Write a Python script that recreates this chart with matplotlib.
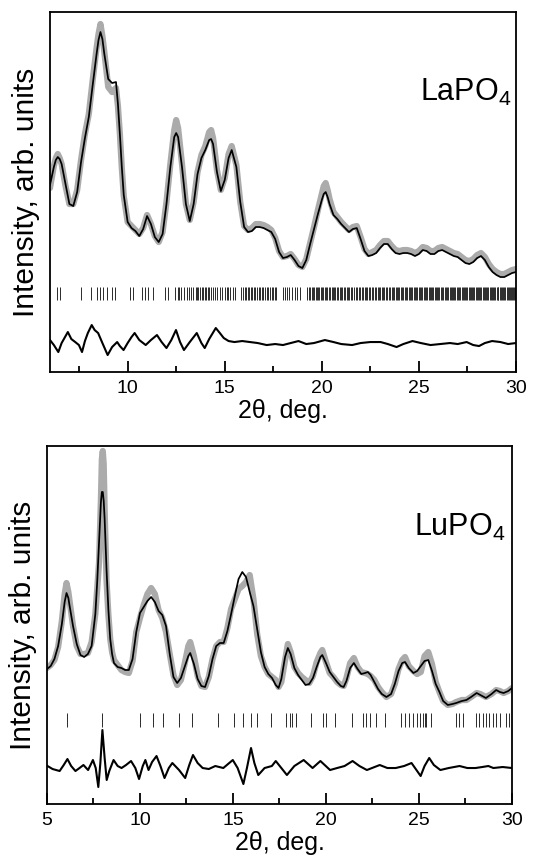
import matplotlib
matplotlib.use('Agg')
import matplotlib.pyplot as plt
from matplotlib.ticker import MultipleLocator

plt.rcParams['font.family'] = ['Liberation Sans', 'DejaVu Sans']
plt.rcParams['mathtext.fontset'] = 'custom'
plt.rcParams['mathtext.rm'] = 'Liberation Sans'

# ---------------- LaPO4 (top) ----------------
la_x = [6.0, 6.2, 6.3, 6.4, 6.5, 6.6, 6.8, 7.0, 7.2, 7.4, 7.6, 7.8, 8.0, 8.2, 8.4, 8.5, 8.6, 8.7, 8.8, 9.0,
        9.2, 9.4, 9.5, 9.6, 9.7, 9.8, 10.0, 10.2, 10.4, 10.6, 10.8, 11.0, 11.2, 11.4, 11.6, 11.8,
        12.0, 12.2, 12.4, 12.5, 12.6, 12.8, 13.0, 13.2, 13.4, 13.6, 13.8, 14.0, 14.2, 14.3,
        14.4, 14.6, 14.8, 15.0, 15.2, 15.36, 15.6, 15.8, 16.0, 16.2, 16.4, 16.6, 16.8, 17.0,
        17.2, 17.4, 17.6, 17.8, 18.0, 18.2, 18.4, 18.6, 18.8, 19.0, 19.2, 19.4, 19.6, 19.8,
        20.0, 20.1, 20.2, 20.3, 20.4, 20.6, 20.8, 21.0, 21.2, 21.4, 21.6, 21.8, 22.0, 22.2, 22.4, 22.6,
        22.8, 23.0, 23.2, 23.4, 23.6, 23.8, 24.0, 24.2, 24.4, 24.6, 24.8, 25.0, 25.2, 25.4,
        25.6, 25.8, 26.0, 26.2, 26.4, 26.6, 26.8, 27.0, 27.2, 27.4, 27.6, 27.8, 28.0, 28.2,
        28.4, 28.6, 28.8, 29.0, 29.2, 29.4, 29.6, 29.8, 30.0]
la_calc = [187, 205, 212, 215, 213, 208, 188, 168, 166, 180, 210, 234, 255, 287, 318, 332, 340, 333, 318, 293,
           289, 290, 268, 238, 205, 177, 150, 144, 141, 136, 143, 156, 148, 135, 130, 138,
           168, 205, 235, 239, 235, 205, 168, 151, 168, 198, 214, 222, 232, 233,
           228, 200, 181, 192, 214, 222, 205, 170, 145, 140, 141, 145, 145, 144,
           142, 140, 133, 120, 114, 115, 117, 112, 106, 104, 112, 128, 143, 158,
           172, 178, 180, 175, 168, 157, 153, 148, 144, 140, 143, 144, 133, 121, 116, 117,
           119, 124, 128, 128, 123, 119, 118, 119, 119, 118, 116, 118, 122, 121,
           118, 118, 121, 122, 120, 118, 116, 115, 112, 109, 108, 110, 114, 116,
           112, 105, 100, 97, 95, 95, 97, 99, 100]
la_obs = [184, 206, 214, 218, 214, 208, 186, 168, 168, 182, 212, 238, 258, 292, 324, 338, 348, 336, 320, 285,
          280, 284, 266, 238, 204, 176, 150, 146, 142, 138, 144, 157, 148, 136, 130, 140,
          170, 208, 242, 252, 244, 208, 168, 152, 170, 200, 217, 226, 240, 242,
          234, 202, 182, 194, 218, 226, 207, 170, 146, 142, 144, 148, 148, 147,
          145, 142, 134, 121, 115, 116, 118, 113, 107, 105, 113, 129, 145, 162,
          178, 186, 189, 182, 173, 160, 155, 150, 146, 142, 145, 146, 135, 123, 118, 120,
          122, 127, 131, 131, 126, 122, 121, 122, 122, 121, 119, 121, 125, 124,
          121, 121, 124, 125, 123, 121, 119, 118, 115, 112, 111, 113, 117, 119,
          115, 108, 103, 100, 98, 98, 100, 102, 103]

la_diff_x = [6.0, 6.2, 6.43, 6.6, 6.92, 7.1, 7.3, 7.49, 7.65, 7.8, 7.95, 8.15, 8.3, 8.48, 8.7,
             8.97, 9.2, 9.46, 9.6, 9.79, 10.0, 10.2, 10.36, 10.6, 10.93, 11.2, 11.51, 11.75,
             12.0, 12.25, 12.49, 12.7, 12.9, 13.2, 13.56, 13.8, 13.97, 14.2, 14.54, 14.75,
             14.95, 15.2, 15.5, 15.9, 16.3, 16.7, 17.16, 17.6, 18.0, 18.4, 18.8, 19.2, 19.6,
             20.16, 20.6, 21.0, 21.56, 22.0, 22.5, 23.03, 23.4, 23.85, 24.2, 24.67, 25.1,
             25.6, 26.1, 26.6, 27.0, 27.46, 27.8, 28.1, 28.4, 28.77, 29.2, 29.6, 30.0]
la_diff = [5, 0, -7, 2, 13, 6, 3, 0, -7, 4, 12, 20, 15, 12, 2,
           -10, -2, 3, -1, -5, 2, 8, 12, 5, 0, 5, 10, 3,
           -3, 5, 15, 3, -5, 3, 12, 2, -3, 6, 17, 12,
           7, 4, 3, 4, 3, 2, 0, 1, 0, 2, 4, 1, 2,
           5, 3, 1, 0, 2, 3, 3, 1, -2, 1, 4, 2,
           0, 1, 2, 1, 3, 0, -1, 2, 4, 3, 1, 2]

la_bragg = [6.38, 6.52, 7.62, 8.12, 8.40, 8.58, 8.75, 8.95, 9.18, 9.35, 10.12, 10.29,
            10.72, 10.90, 11.07, 11.32, 11.90, 12.10, 12.45, 12.58, 12.66, 12.77, 12.90,
            13.05, 13.15, 13.26, 13.39, 13.50, 13.56, 13.64, 13.72, 13.82, 13.89, 13.97,
            14.05, 14.13, 14.21, 14.30, 14.38, 14.50, 14.62, 14.75, 14.87, 15.03, 15.10,
            15.16, 15.28, 15.44, 15.52, 15.85, 15.95, 16.02, 16.10, 16.18, 16.26, 16.34,
            16.42, 16.51, 16.58, 16.64, 16.75, 16.84, 16.90, 16.97, 17.08, 17.16, 17.25,
            17.33, 17.41, 17.50, 17.58, 17.66, 18.02, 18.10, 18.22, 18.30, 18.45, 18.60,
            18.72, 18.90, 19.25, 19.32, 19.40, 19.47, 19.55, 19.60, 19.68, 19.75, 19.80,
            19.88, 19.95, 20.02, 20.08, 20.15, 20.22, 20.28, 20.35, 20.42, 20.50, 20.56,
            20.62, 20.70, 20.78, 20.85, 20.92, 20.98, 21.05, 21.12, 21.20, 21.28, 21.35,
            21.42, 21.50, 21.58, 21.65, 21.75, 21.82, 21.90, 21.97, 22.05, 22.12, 22.20,
            22.28, 22.35, 22.42, 22.50, 22.58, 22.65, 22.72, 22.80, 22.88, 22.95, 23.02,
            23.08, 23.15, 23.22, 23.30, 23.38, 23.45, 23.52, 23.60, 23.66, 23.72, 23.80,
            23.86, 23.92, 24.00, 24.06, 24.12, 24.20, 24.26, 24.33, 24.40, 24.47, 24.53,
            24.60, 24.67, 24.73, 24.80, 24.86, 24.92, 25.00, 25.06, 25.12, 25.18, 25.25,
            25.32, 25.38, 25.44, 25.50, 25.56, 25.62, 25.68, 25.75, 25.82, 25.88, 25.94,
            26.00, 26.06, 26.12, 26.18, 26.25, 26.32, 26.38, 26.45, 26.52, 26.58, 26.64,
            26.70, 26.76, 26.82, 26.88, 26.95, 27.02, 27.08, 27.14, 27.20, 27.26, 27.32,
            27.38, 27.44, 27.50, 27.56, 27.62, 27.68, 27.74, 27.80, 27.86, 27.92, 27.98,
            28.04, 28.10, 28.16, 28.22, 28.28, 28.34, 28.40, 28.46, 28.52, 28.58, 28.64,
            28.70, 28.76, 28.82, 28.88, 28.94, 29.00, 29.05, 29.10, 29.16, 29.22, 29.28,
            29.34, 29.40, 29.46, 29.52, 29.58, 29.64, 29.70, 29.75, 29.80, 29.86, 29.92, 29.97]

# ---------------- LuPO4 (bottom) ----------------
lu_x = [5.0, 5.2, 5.4, 5.6, 5.8, 5.95, 6.05, 6.15, 6.2, 6.4, 6.6, 6.8, 7.0, 7.2, 7.4, 7.6, 7.7,
        7.8, 7.9, 7.95, 8.0, 8.05, 8.1, 8.2, 8.3, 8.4, 8.5, 8.6, 8.8, 9.0, 9.2, 9.4, 9.6,
        9.8, 10.0, 10.2, 10.4, 10.6, 10.8, 11.0, 11.2, 11.4, 11.6, 11.8, 12.0, 12.2, 12.4,
        12.6, 12.7, 12.9, 13.1, 13.3, 13.5, 13.7, 13.9, 14.1, 14.3, 14.5, 14.7, 14.9, 15.1,
        15.3, 15.5, 15.7, 15.9, 16.1, 16.3, 16.5, 16.7, 16.9, 17.1, 17.3, 17.45, 17.6, 17.8,
        17.95, 18.1, 18.3, 18.5, 18.7, 18.9, 19.1, 19.3, 19.5, 19.7, 19.8, 20.0, 20.2, 20.4,
        20.6, 20.8, 20.95, 21.1, 21.3, 21.5, 21.7, 21.9, 22.1, 22.25, 22.4, 22.6, 22.8, 23.0,
        23.25, 23.5, 23.7, 23.9, 24.1, 24.25, 24.45, 24.7, 24.9, 25.1, 25.3, 25.5, 25.7, 25.9,
        26.1, 26.3, 26.55, 26.8, 27.0, 27.3, 27.55, 27.8, 28.1, 28.3, 28.6, 28.9, 29.15,
        29.35, 29.55, 29.8, 30.0]
lu_calc = [135, 138, 145, 158, 180, 202, 211, 206, 200, 178, 160, 149, 147, 150, 158, 190, 222,
           262, 302, 312, 312, 303, 285, 235, 195, 165, 150, 141, 137, 136, 134, 134, 145,
           172, 191, 197, 203, 207, 202, 193, 189, 178, 150, 127, 121, 126, 137,
           148, 151, 140, 125, 118, 117, 128, 145, 158, 161, 161, 173, 190, 208,
           225, 232, 227, 212, 198, 175, 152, 137, 130, 126, 119, 116, 125, 147,
           156, 150, 136, 129, 124, 119, 120, 126, 137, 147, 149, 141, 132, 127,
           122, 118, 117, 123, 136, 141, 135, 130, 131, 132, 129, 122, 115, 110,
           107, 110, 120, 133, 141, 142, 136, 131, 133, 138, 143, 144, 133, 120,
           112, 103, 99, 100, 101, 103, 104, 107, 111, 109, 106, 110, 114,
           112, 111, 113, 116]
lu_obs = [136, 139, 144, 157, 183, 210, 221, 212, 205, 178, 158, 150, 150, 151, 162, 190, 215,
          242, 305, 345, 353, 340, 295, 224, 190, 165, 152, 144, 139, 134, 132, 131, 143,
          172, 186, 199, 210, 216, 210, 194, 186, 172, 150, 129, 119, 124, 140,
          158, 162, 148, 128, 118, 117, 127, 145, 158, 162, 162, 176, 195, 205,
          215, 218, 222, 229, 205, 170, 148, 137, 130, 127, 124, 117, 122, 144,
          160, 152, 137, 131, 127, 124, 121, 128, 142, 151, 154, 142, 131, 127,
          122, 119, 118, 126, 141, 146, 137, 132, 131, 130, 128, 124, 117, 112,
          107, 110, 120, 135, 144, 147, 138, 133, 130, 132, 148, 152, 140, 122,
          112, 103, 99, 100, 102, 104, 104, 107, 111, 110, 107, 110, 114,
          113, 111, 113, 116]

lu_diff_x = [5.03, 5.3, 5.68, 5.9, 6.1, 6.3, 6.53, 6.75, 6.96, 7.21, 7.47, 7.62, 7.76,
             7.87, 7.98, 8.1, 8.21, 8.35, 8.58, 8.8, 9.01, 9.25, 9.52, 9.75, 9.95, 10.15,
             10.29, 10.46, 10.65, 10.89, 11.1, 11.32, 11.55, 11.74, 12.1, 12.43, 12.65,
             12.85, 13.1, 13.37, 13.7, 14.05, 14.48, 14.99, 15.25, 15.56, 15.75, 15.97,
             16.15, 16.36, 16.7, 17.09, 17.3, 17.6, 17.9, 18.3, 18.8, 19.28, 19.7, 20.22,
             20.6, 21.0, 21.43, 21.8, 22.2, 22.89, 23.3, 23.75, 24.2, 24.6, 25.09, 25.3,
             25.55, 25.8, 26.15, 26.6, 27.18, 27.6, 28.04, 28.4, 28.73, 29.0, 29.5, 30.0]
lu_diff = [2, -1, -3, 3, 9, 2, -3, 0, 3, -2, 8, 0, -19,
           5, 38, 10, -12, -3, 8, 2, 0, 3, 7, 0, -11, 2,
           8, -2, 6, 12, 2, -10, 0, 5, -2, -10, 3,
           13, 5, 0, -1, 2, 0, 8, 0, -16, 0, 20,
           5, -7, 0, 2, 7, 0, -7, 2, 8, 0, 7, -2,
           0, 2, 7, 2, -2, 3, 0, 0, 2, 5, -8, 2,
           10, 3, -2, 0, 2, 0, 0, 1, 2, 0, 1, 0]

lu_bragg = [6.06, 7.95, 10.0, 10.68, 11.26, 12.09, 12.80, 14.20, 15.05, 15.55, 15.98,
            16.30, 17.05, 17.84, 18.06, 18.20, 18.38, 19.22, 19.85, 20.0, 20.47, 21.42,
            21.99, 22.17, 22.35, 22.71, 23.16, 24.05, 24.23, 24.46, 24.68, 24.89, 25.07,
            25.21, 25.30, 25.39, 25.63, 27.0, 27.15, 27.36, 28.04, 28.25, 28.43, 28.61,
            28.79, 28.97, 29.15, 29.33, 29.69, 29.83]

LABEL_FS = 21.5
TICK_FS = 14
XLAB_FS = 18
NAME_FS = 22

fig = plt.figure(figsize=(5.45, 8.65), dpi=100)
ax1 = fig.add_axes([0.0917, 0.5699, 0.855, 0.4162])
ax2 = fig.add_axes([0.0862, 0.0705, 0.8532, 0.4139])


def draw(ax, x, obs, calc, dx, dy, dbase, bragg, blo, bhi, xlim, ylim, name, npos):
    ax.plot(x, obs, color='#ababab', lw=4.5, solid_capstyle='round',
            solid_joinstyle='round', zorder=1)
    ax.plot(x, calc, color='black', lw=1.25, solid_joinstyle='round', zorder=3)
    ax.vlines(bragg, blo, bhi, color='#2a2a2a', lw=0.7, zorder=2)
    ax.plot(dx, [dbase + v for v in dy], color='black', lw=1.5,
            solid_joinstyle='round', zorder=3)
    ax.set_xlim(*xlim)
    ax.set_ylim(*ylim)
    ax.xaxis.set_major_locator(MultipleLocator(5))
    ax.xaxis.set_minor_locator(MultipleLocator(2.5))
    ax.tick_params(axis='x', which='major', direction='in', length=8, width=1.3,
                   labelsize=TICK_FS, pad=6, top=False)
    ax.tick_params(axis='x', which='minor', direction='in', length=4.5, width=1.3, top=False)
    ax.set_yticks([])
    for s in ax.spines.values():
        s.set_linewidth(1.3)
    ax.set_xlabel('2θ, deg.', fontsize=XLAB_FS, labelpad=1)
    ax.set_ylabel('Intensity, arb. units', fontsize=LABEL_FS, labelpad=7)
    ax.text(npos[0], npos[1], name, fontsize=NAME_FS, ha='center', va='center')


draw(ax1, la_x, la_obs, la_calc, la_diff_x, la_diff, 27, la_bragg, 72, 85,
     (6, 30), (0, 360), r'LaPO$_\mathregular{4}$', (27.4, 280))
draw(ax2, lu_x, lu_obs, lu_calc, lu_diff_x, lu_diff, 36, lu_bragg, 77, 91,
     (5, 30), (0, 358), r'LuPO$_\mathregular{4}$', (27.2, 277))

fig.savefig('out.png', dpi=100)
